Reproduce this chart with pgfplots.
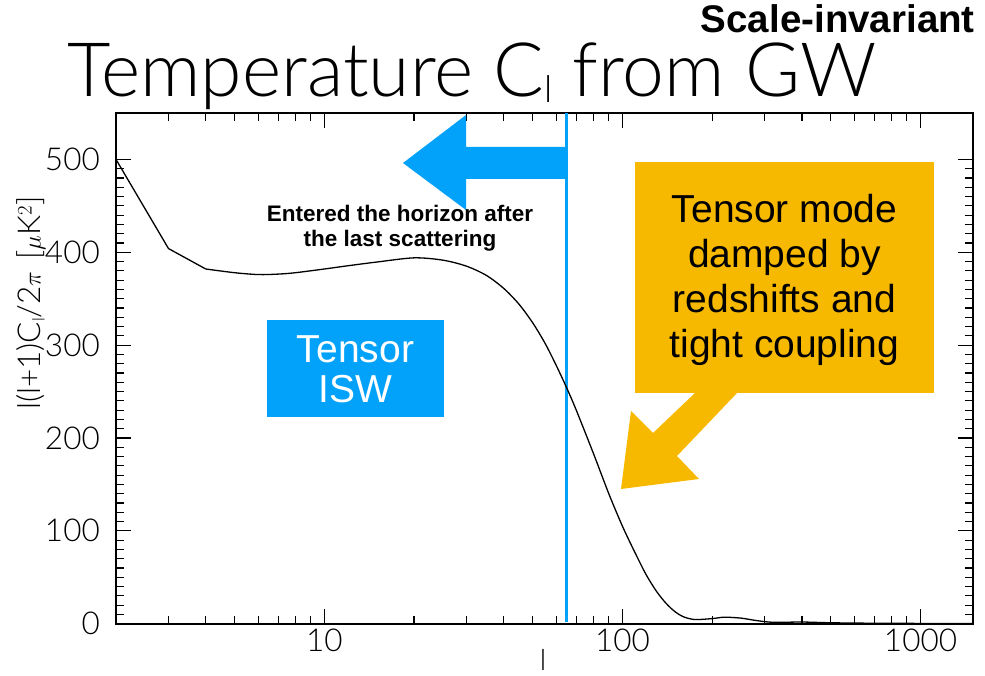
\documentclass[border=0pt]{standalone}
\usepackage{fontspec}
\usepackage{pgfplots}
\pgfplotsset{compat=1.18}
\IfFontExistsTF{Lato Light}{\setmainfont{Lato Light}}{\setmainfont{Liberation Sans}}
\newfontfamily\arial{Liberation Sans}
\definecolor{cblue}{RGB}{3,162,250}
\definecolor{corange}{RGB}{247,185,0}
\begin{document}
\begin{tikzpicture}[x=1pt,y=1pt]
\useasboundingbox (0,0) rectangle (985,675);
\begin{axis}[
  at={(116pt,51.3pt)}, anchor=south west,
  scale only axis, width=857pt, height=510.7pt,
  xmode=log, xmin=2, xmax=1500, ymin=0, ymax=550,
  xtick={10,100,1000}, xticklabels={10,100,1000},
  minor xtick={2,3,4,5,6,7,8,9,20,30,40,50,60,70,80,90,200,300,400,500,600,700,800,900},
  ytick={0,100,200,300,400,500}, minor y tick num=9,
  xtick pos=both, ytick pos=both,
  tick align=inside,
  major tick length=15pt, minor tick length=8pt,
  axis line style={line width=1.6pt},
  every tick/.style={black, line width=1.2pt},
  /pgf/number format/assume math mode=true,
  tick label style={font=\fontsize{31.5}{31.5}\selectfont, inner sep=0pt},
  yticklabel style={xshift=-16pt},
  xticklabel style={yshift=-5pt},
]
\addplot[cblue, line width=3.5pt] coordinates {(65,1.5) (65,550)};
\addplot[black, line width=1.3pt] coordinates {(2,500) (3,404) (4,382)};
\addplot[black, line width=1.3pt, smooth] coordinates {
(4,382) (5,378) (6,376) (7,376.5) (8,378) (10,382) (12,385.5) (15,389.5) (20,394)
(25,391.5) (30,385) (35,375) (40,361) (45,344) (50,324) (55,302) (60,278) (65,254)
(70,230) (80,183) (90,140) (100,105) (110,77) (120,53) (130,35) (140,22) (150,13)
(160,7.5) (175,4.5) (200,5.5) (220,7) (250,6) (280,3.5) (320,1.5) (400,1.8) (500,1)
(700,0.5) (1000,0.3) (1500,0.1)};
\end{axis}
% annotations
\fill[cblue] (403,512) -- (466,560) -- (466,528) -- (566,528) -- (566,496) -- (466,496) -- (466,465) -- cycle;
\fill[corange] (635,282) rectangle (934,513);
\fill[corange] (696,283) -- (653,242) -- (631,264) -- (621,186) -- (699,196) -- (677,219) -- (738,283) -- cycle;
\fill[cblue] (267,258) rectangle (444,355);
% texts
\node[anchor=base west, inner sep=0, font=\fontsize{75}{75}\selectfont] at (67,578)
  {Temperature C\raisebox{-6pt}{\fontsize{37}{37}\selectfont l} from GW};
\node[anchor=base east, inner sep=0, font=\arial\bfseries\fontsize{38.5}{38.5}\selectfont] at (975,642) {Scale-invariant};
\node[anchor=base, inner sep=0, font=\arial\bfseries\fontsize{22.5}{22.5}\selectfont] at (400,453) {Entered the horizon after};
\node[anchor=base, inner sep=0, font=\arial\bfseries\fontsize{22.5}{22.5}\selectfont] at (400,428) {the last scattering};
\node[anchor=base, inner sep=0, text=white, font=\arial\fontsize{39}{39}\selectfont] at (355.5,312) {Tensor};
\node[anchor=base, inner sep=0, text=white, font=\arial\fontsize{39}{39}\selectfont] at (355.5,272) {ISW};
\node[anchor=base, inner sep=0, font=\arial\fontsize{39}{39}\selectfont] at (784.5,452) {Tensor mode};
\node[anchor=base, inner sep=0, font=\arial\fontsize{39}{39}\selectfont] at (784.5,407) {damped by};
\node[anchor=base, inner sep=0, font=\arial\fontsize{39}{39}\selectfont] at (784.5,362) {redshifts and};
\node[anchor=base, inner sep=0, font=\arial\fontsize{39}{39}\selectfont] at (784.5,317) {tight coupling};
\node[anchor=base, inner sep=0, font=\fontsize{29}{29}\selectfont] at (543,5) {l};
\node[rotate=90, inner sep=0, font=\fontsize{31.5}{31.5}\selectfont] at (31,372)
  {l(l+1)C\raisebox{-4pt}{\fontsize{17}{17}\selectfont l}/2$\pi$\hspace{12pt}[$\mu$K$^{2}$]};
\end{tikzpicture}
\end{document}
